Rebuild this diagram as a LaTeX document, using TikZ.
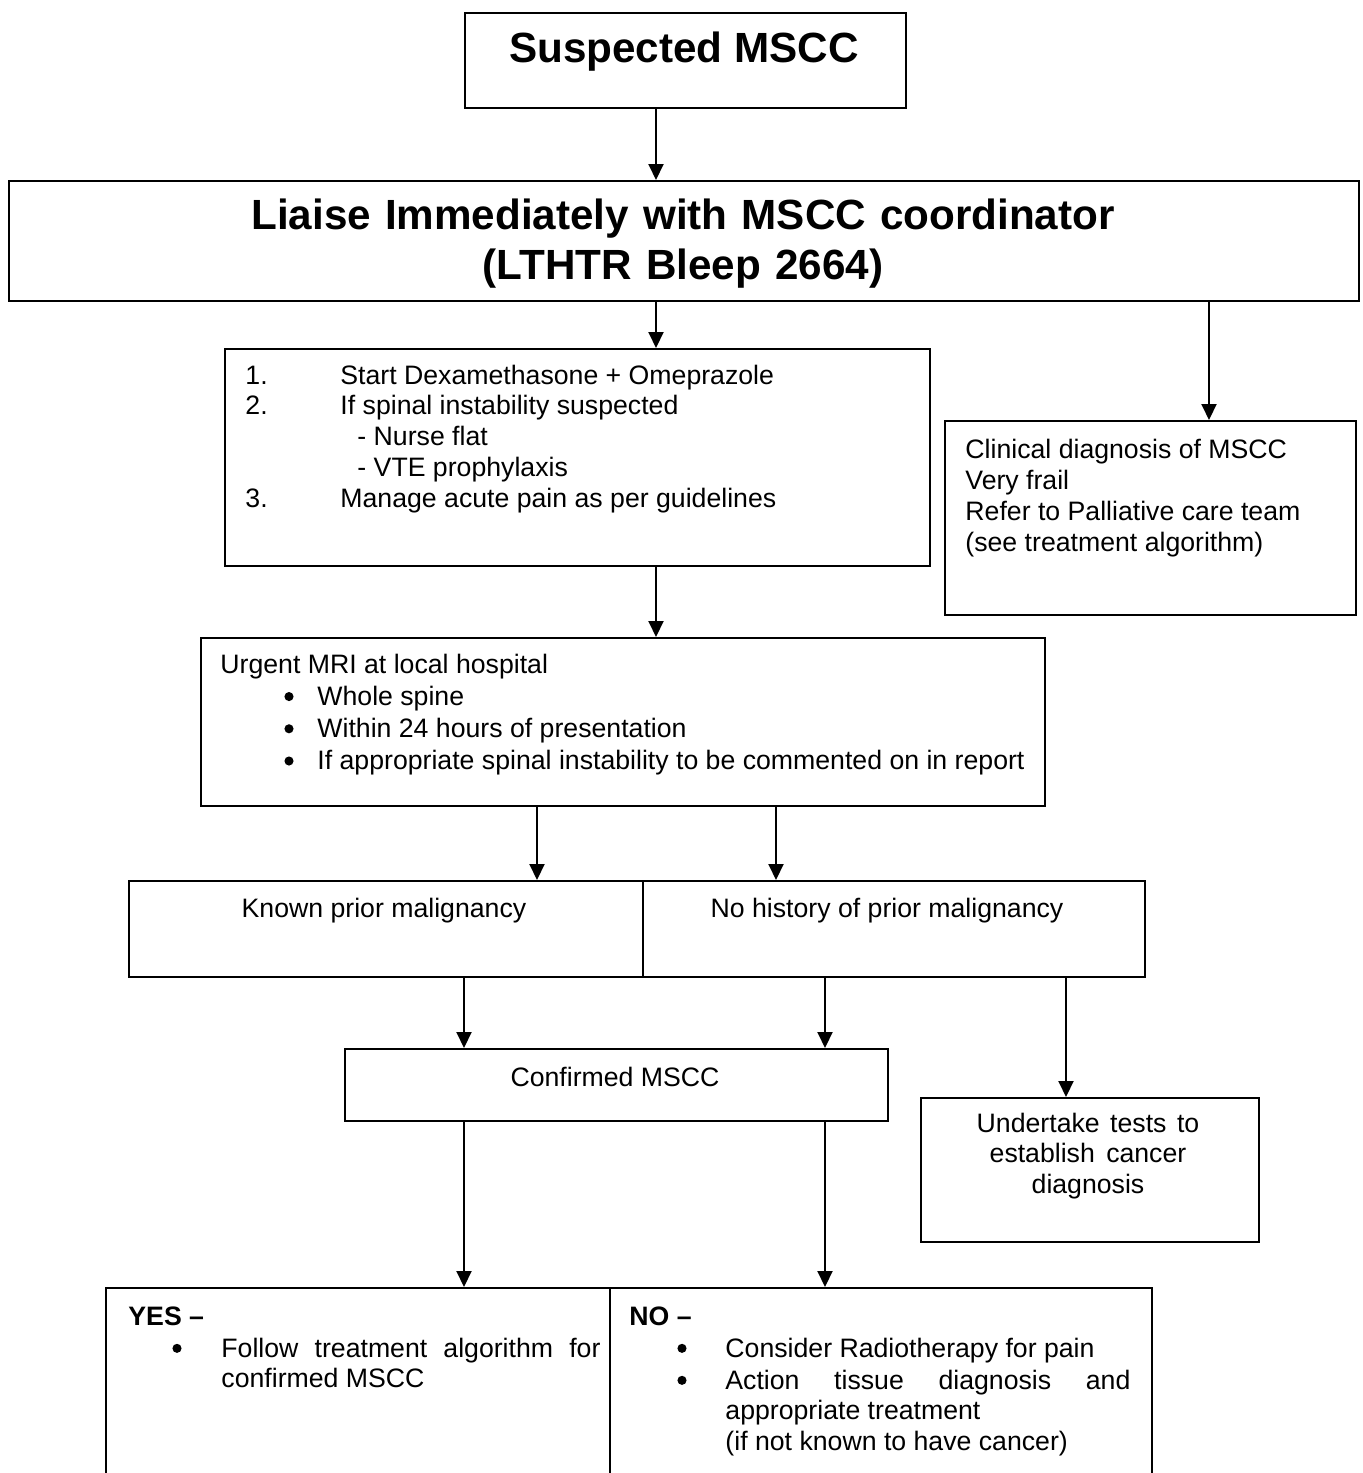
\documentclass[tikz,border=0pt]{standalone}
\usepackage{fontspec}
\setmainfont{Liberation Sans}
\usetikzlibrary{arrows.meta}

\newcommand{\pxu}{0.45pt}
\newcommand{\blt}{\tikz[baseline=0pt]\fill (2.1pt,3.9pt) circle[radius=2.05pt];}

\tikzset{
  box/.style={draw, line width=0.9pt, anchor=north west, inner sep=0pt},
  txt/.style={inner sep=0pt, anchor=base west, align=left, font=\fontsize{12}{13.9}\selectfont,
    execute at begin node={\spaceskip=0pt\xspaceskip=0pt\relax}},
  headtxt/.style={inner sep=0pt, anchor=base, align=center, font=\bfseries\fontsize{19}{22.5}\selectfont},
  arr/.style={line width=0.9pt, -{Triangle[width=6.75pt,length=7.2pt]}},
}

\begin{document}
\begin{tikzpicture}[x=0.45pt,y=-0.45pt]
  \useasboundingbox (0,0) rectangle (1363,1473);

  % boxes
  \node[box, minimum width=441*\pxu, minimum height=95*\pxu] (susp) at (464,12) {};
  \node[box, minimum width=1350*\pxu, minimum height=120*\pxu] (liaise) at (8,180) {};
  \node[box, minimum width=705*\pxu, minimum height=217*\pxu] (steps) at (224,348) {};
  \node[box, minimum width=411*\pxu, minimum height=194*\pxu] (clin) at (944,420) {};
  \node[box, minimum width=844*\pxu, minimum height=168*\pxu] (mri) at (200,637) {};
  \node[box, minimum width=514*\pxu, minimum height=96*\pxu] (known) at (128,880) {};
  \node[box, minimum width=502*\pxu, minimum height=96*\pxu] (nohist) at (642,880) {};
  \node[box, minimum width=543*\pxu, minimum height=72*\pxu] (conf) at (344,1048) {};
  \node[box, minimum width=338*\pxu, minimum height=144*\pxu] (tests) at (920,1097) {};
  \node[box, minimum width=504*\pxu, minimum height=233*\pxu] (yes) at (105,1287) {};
  \node[box, minimum width=542*\pxu, minimum height=233*\pxu] (no) at (609,1287) {};

  % texts
  \node[headtxt] (susptxt) at (684,62) {Suspected MSCC};
  \node[headtxt, text width=600pt] (liaisetxt) at (683,229)
    {Liaise Immediately with MSCC coordinator\\(LTHTR Bleep 2664)};
  \node[txt, text width=300pt, font=\fontsize{12}{13.84}\selectfont] (stepstxt) at (245,384)
    {\makebox[42.75pt][l]{1.}Start Dexamethasone + Omeprazole\\
     \makebox[42.75pt][l]{2.}If spinal instability suspected\\
     \hspace*{50.4pt}- Nurse flat\\
     \hspace*{50.4pt}- VTE prophylaxis\\
     \makebox[42.75pt][l]{3.}Manage acute pain as per guidelines};
  \node[txt, text width=180pt, font=\fontsize{12}{13.95}\selectfont] (clintxt) at (965,458)
    {Clinical diagnosis of MSCC\\Very frail\\Refer to Palliative care team\\(see treatment algorithm)};
  \node[txt, text width=370pt, font=\fontsize{12}{14.5}\selectfont] (mritxt) at (220,673)
    {Urgent MRI at local hospital\\
     \hspace*{28.8pt}\makebox[14.85pt][l]{\blt}Whole spine\\
     \hspace*{28.8pt}\makebox[14.85pt][l]{\blt}Within 24 hours of presentation\\
     \hspace*{28.8pt}\makebox[14.85pt][l]{\blt}If appropriate spinal instability to be commented on in report};
  \node[txt, anchor=base] (knowntxt) at (384,917) {Known prior malignancy};
  \node[txt, anchor=base] (nohisttxt) at (887,917) {No history of prior malignancy};
  \node[txt, anchor=base] (conftxt) at (615,1086) {Confirmed MSCC};
  \node[txt, anchor=base, text width=140pt, align=center] (teststxt) at (1088,1132)
    {Undertake tests to\\establish cancer\\diagnosis};
  \node[txt, text width=220pt] (yestxt) at (128,1325)
    {\textbf{YES –}\\[0.5pt]
     \hspace*{19.8pt}\makebox[22.05pt][l]{\blt}\makebox[170.55pt][s]{Follow treatment algorithm for}\\
     \hspace*{41.85pt}confirmed MSCC};
  \node[txt, text width=235pt] (notxt) at (629,1325)
    {\textbf{NO –}\\[0.5pt]
     \hspace*{21.6pt}\makebox[21.6pt][l]{\blt}Consider Radiotherapy for pain\\[0.5pt]
     \hspace*{21.6pt}\makebox[21.6pt][l]{\blt}\makebox[182.25pt][s]{Action tissue diagnosis and}\\
     \hspace*{43.2pt}appropriate treatment\\
     \hspace*{43.2pt}(if not known to have cancer)};

  % connectors
  \foreach \x/\a/\b in {656/susp/liaise, 656/liaise/steps, 1209/liaise/clin,
      656/steps/mri, 537/mri/known, 776/mri/nohist, 464/known/conf,
      825/nohist/conf, 1066/nohist/tests, 464/conf/yes, 825/conf/no}
    \draw[arr] (\x,0 |- \a.south) -- (\x,0 |- \b.north);
\end{tikzpicture}
\end{document}
